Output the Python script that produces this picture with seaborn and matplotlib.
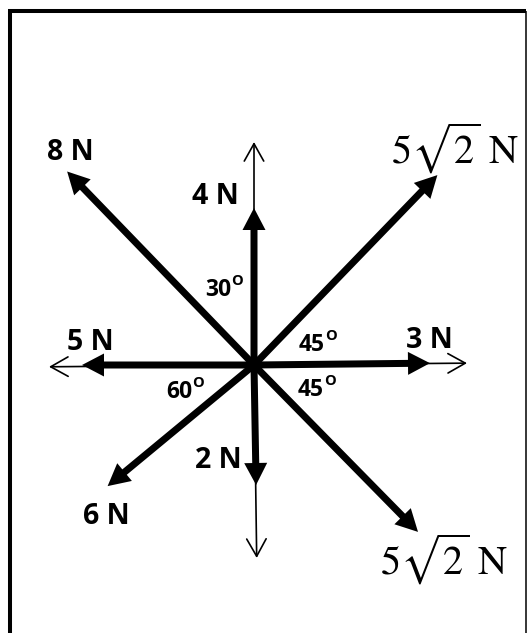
import numpy as np
import matplotlib
matplotlib.use("Agg")
import matplotlib.pyplot as plt
import seaborn as sns

# ---------------- data ----------------
force_labels = ["4 N", "8 N", "5√2 N (up)", "5 N", "3 N", "6 N", "2 N", "5√2 N (down)"]
force_angles = [90, 134, 46, 180, 0.6, 219.6, 271, 314.5]      # degrees, counter-clockwise from +x
force_lengths = [157, 269, 264, 172, 176, 190, 120, 234]        # drawn length (px)

axis_angles = [90, 270.8, 180.5, 0.5]
axis_lengths = [223, 193, 205, 213]

name_texts = ["8 N", "4 N", "5 N", "3 N", "2 N", "6 N"]
name_pos = [(70, 152), (215, 196), (90, 343), (429, 341), (218, 460), (106, 516)]

root_texts = [r"$5\sqrt{2}\ \mathrm{N}$", r"$5\sqrt{2}\ \mathrm{N}$"]
root_pos = [(391, 164), (380, 575)]

angle_texts = ["30", "45", "60", "45"]
angle_pos = [(205, 296), (299, 351), (166, 398), (298, 396)]

center = (254, 365)
W, H = 527, 633

# ---------------- style ----------------
sns.set_theme(style="white")
plt.rcParams["font.family"] = ["Open Sans", "DejaVu Sans"]
plt.rcParams["mathtext.fontset"] = "stix"

fig = plt.figure(figsize=(W / 100, H / 100), dpi=100)
ax = fig.add_axes([0, 0, 1, 1])
ax.set_xlim(0, W)
ax.set_ylim(H, 0)
ax.axis("off")

# frame
ax.plot([9.5, 9.5], [H + 5, 11], color="black", lw=2.9, solid_capstyle="butt")
ax.plot([8, 526], [11, 11], color="black", lw=2.9, solid_capstyle="butt")
ax.plot([525.6, 525.6], [11, H + 5], color="black", lw=1.1, solid_capstyle="butt")

cx, cy = center

# thin reference axes with open heads
for a, L in zip(axis_angles, axis_lengths):
    t = np.deg2rad(a)
    tip = (cx + L * np.cos(t), cy - L * np.sin(t))
    ax.annotate("", xy=tip, xytext=center,
                arrowprops=dict(arrowstyle="->,head_length=12.5,head_width=7",
                                mutation_scale=1, lw=1.2, color="black",
                                shrinkA=0, shrinkB=0))

# thick force arrows
for a, L in zip(force_angles, force_lengths):
    t = np.deg2rad(a)
    dx, dy = L * np.cos(t), -L * np.sin(t)
    ax.arrow(cx, cy, dx, dy, width=7, head_width=23, head_length=22,
             length_includes_head=True, fc="black", ec="none", zorder=3)

# force names
for s, (x, y) in zip(name_texts, name_pos):
    ax.text(x, y, s, ha="center", va="center", fontsize=20.5,
            fontweight="bold", color="black", zorder=4)

for s, (x, y) in zip(root_texts, root_pos):
    ax.text(x, y, s, ha="left", va="baseline", fontsize=29, color="black", zorder=4)

# angles (digits with a raised letter O)
for s, (x, y) in zip(angle_texts, angle_pos):
    t = ax.text(x, y, s, ha="left", va="baseline", fontsize=16.5,
                fontweight="bold", color="black", zorder=4)
    ax.annotate("O", xy=(1, y - 11), xycoords=(t, "data"), xytext=(0.3, 0),
                textcoords="offset points", ha="left", va="baseline",
                fontsize=10.5, fontweight="bold", color="black", zorder=4)

fig.savefig("out.png", dpi=100, facecolor="white")
